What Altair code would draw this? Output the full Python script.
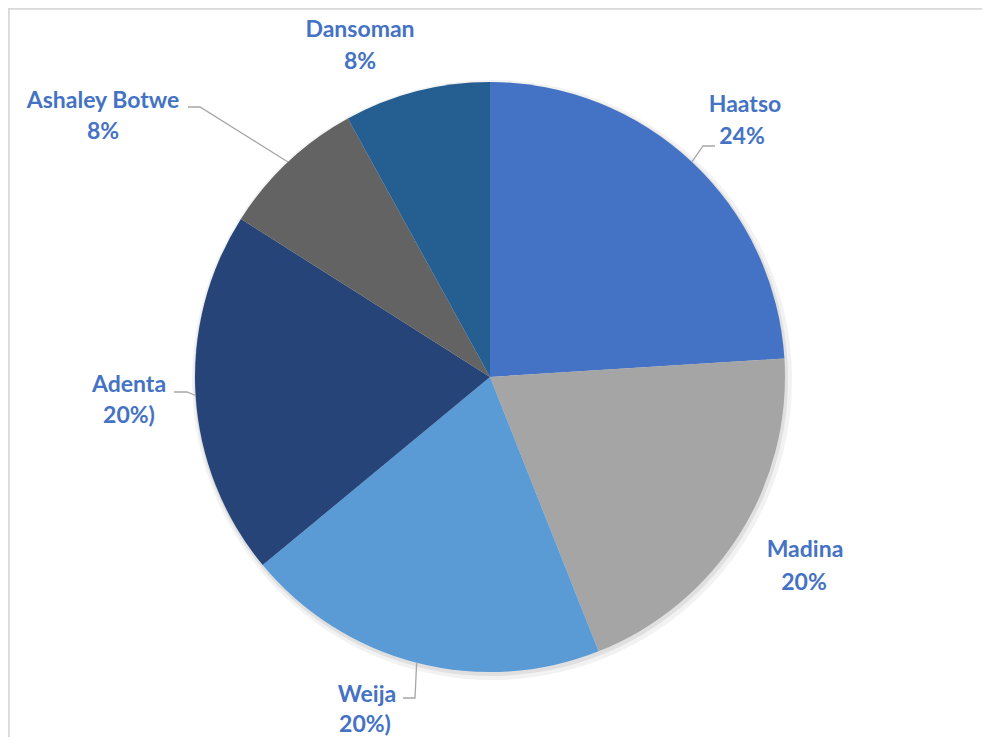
import math
import altair as alt
import pandas as pd

# ---- data ----
categories = ["Haatso", "Madina", "Weija", "Adenta", "Ashaley Botwe", "Dansoman"]
values = [24, 20, 20, 20, 8, 8]
pct_labels = ["24%", "20%", "20%)", "20%)", "8%", "8%"]
colors = ["#4472C4", "#A5A5A5", "#5B9BD5", "#264478", "#636363", "#255E91"]

# ---- layout (pixels inside the chart) ----
W, H = 974, 729
CX, CY, R = 482, 369, 295
label_name_xy = [(737, 97), (797, 542), (359, 687), (121, 377), (95, 93), (352, 22)]
label_pct_xy = [(734, 129), (796, 575), (357, 717), (121, 408), (95, 124), (352, 54)]
# leader-line start points (text end, elbow); None = no leader
leader_pts = [
    [(707, 138), (695, 138)],
    None,
    [(395, 690), (407, 690)],
    [(166, 384), (179, 384)],
    [(180, 99), (192, 99)],
    None,
]

df = pd.DataFrame({"cat": categories, "value": values, "pct": pct_labels,
                   "idx": list(range(len(categories)))})

df["nx"] = [p[0] for p in label_name_xy]
df["ny"] = [p[1] for p in label_name_xy]
df["px"] = [p[0] for p in label_pct_xy]
df["py"] = [p[1] for p in label_pct_xy]

# leader lines end at the pie edge at each slice's mid angle
total = sum(values)
rows = []
cum = 0
for i, v in enumerate(values):
    mid = (cum + v / 2) / total * 2 * math.pi
    cum += v
    if leader_pts[i] is None:
        continue
    ex = CX + R * math.sin(mid)
    ey = CY - R * math.cos(mid)
    pts = leader_pts[i] + [(ex, ey)]
    for k, (x, y) in enumerate(pts):
        rows.append({"cat": categories[i], "k": k, "x": x, "y": y})
lead_df = pd.DataFrame(rows)

color_scale = alt.Scale(domain=categories, range=colors)

base = alt.Chart(df)

shadow1 = base.mark_arc(radius=300, color="#000000", opacity=0.05).encode(
    theta=alt.Theta("value:Q", stack=True),
    order=alt.Order("idx:Q"),
    x=alt.value(CX + 2), y=alt.value(CY + 3),
)
shadow2 = base.mark_arc(radius=297, color="#000000", opacity=0.07).encode(
    theta=alt.Theta("value:Q", stack=True),
    order=alt.Order("idx:Q"),
    x=alt.value(CX + 1), y=alt.value(CY + 2),
)

pie = base.mark_arc(radius=R).encode(
    theta=alt.Theta("value:Q", stack=True),
    color=alt.Color("cat:N", scale=color_scale, legend=None, sort=categories),
    order=alt.Order("idx:Q"),
    x=alt.value(CX), y=alt.value(CY),
)

leaders = alt.Chart(lead_df).mark_line(color="#A6A6A6", strokeWidth=1.3).encode(
    x=alt.X("x:Q", scale=None),
    y=alt.Y("y:Q", scale=None),
    detail="cat:N",
    order="k:Q",
)

txt_kw = dict(font="Lato", fontWeight="bold", fontSize=23, color="#4472C4",
              align="center", baseline="middle")
names = base.mark_text(**txt_kw).encode(
    x=alt.X("nx:Q", scale=None), y=alt.Y("ny:Q", scale=None), text="cat:N"
)
pcts = base.mark_text(**txt_kw).encode(
    x=alt.X("px:Q", scale=None), y=alt.Y("py:Q", scale=None), text="pct:N"
)

border_left = alt.Chart(df).mark_rule(color="#D9D9D9", strokeWidth=1.5).encode(
    x=alt.value(0.5), y=alt.value(0), y2=alt.value(H)
)
border_top = alt.Chart(df).mark_rule(color="#D9D9D9", strokeWidth=1.5).encode(
    y=alt.value(0.5), x=alt.value(0), x2=alt.value(W)
)

chart = alt.layer(
    border_left, border_top, shadow1, shadow2, pie, leaders, names, pcts
).properties(
    width=W, height=H, autosize=alt.AutoSizeParams(type="none"), padding=0,
    background="#FFFFFF",
).configure_view(stroke=None)

chart.save("out.html", embed_options={"renderer": "svg", "actions": False})
